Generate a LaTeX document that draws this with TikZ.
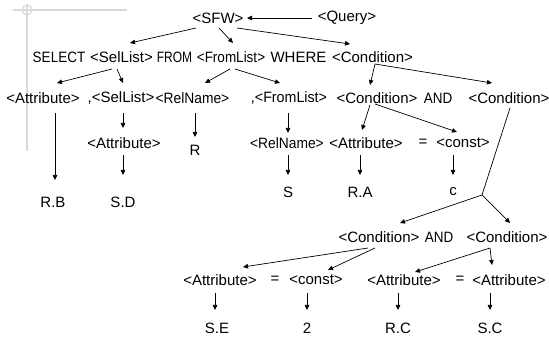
\documentclass[tikz,border=0pt]{standalone}
\usepackage{fontspec}
\setmainfont{Liberation Sans}
\usetikzlibrary{arrows.meta}
\tikzset{
  arr/.style={-{Triangle[length=5pt,width=4.5pt]}, line width=0.7pt},
  mark lines/.style={draw=black!15, line width=1.2pt}
}
\newcommand{\narrow}[2]{\scalebox{#1}[1]{#2}}
\begin{document}
\begin{tikzpicture}[x=1pt, y=-1pt, inner sep=0pt]
    \useasboundingbox (0,0) rectangle (549,347);
    \fontsize{15}{17}\selectfont
    % faint slide marks
    \draw [mark lines] (13,10) -- (127,10);
    \draw [mark lines] (27,4) -- (27,151);
    \draw [mark lines] (27,10) circle (5);

    \node (Q)   at (347,18) {<Query>};
    \node (SFW) at (218,18) {<SFW>};

    \node (SEL) at (59,57)    {\narrow{0.9}{SELECT}};
    \node (SL)  at (121.5,57) {<SelList>};
    \node (FR)  at (174.5,57) {\narrow{0.8}{FROM}};
    \node (FL)  at (231,57)   {\narrow{0.9}{<FromList>}};
    \node (WH)  at (298.5,57) {WHERE};
    \node (C)   at (372.5,57) {<Condition>};

    \node (A1)  at (43,98)  {<Attribute>};
    \node (SL2) at (121,98) {,<SelList>};
    \node (RN1) at (192.5,98) {\narrow{0.92}{<RelName>}};
    \node (FL2) at (289,98) {\narrow{0.95}{,<FromList>}};
    \node (C1)  at (377,98) {<Condition>};
    \node (AND1) at (438,98) {\narrow{0.9}{AND}};
    \node (C2)  at (509,98) {<Condition>};

    \node (A2)  at (124,143) {<Attribute>};
    \node (R)   at (195,150) {R};
    \node (RN2) at (287,143) {\narrow{0.92}{<RelName>}};
    \node (A3)  at (366,143) {<Attribute>};
    \node (EQ1) at (423,143) {=};
    \node (K1)  at (463,143) {<const>};

    \node (RB)  at (53,202)  {R.B};
    \node (SD)  at (123,202) {S.D};
    \node (S)   at (288,192) {S};
    \node (RA)  at (360,192) {R.A};
    \node (c)   at (453,192) {c};

    \node (C3)  at (379,237) {<Condition>};
    \node (AND2) at (439,237) {\narrow{0.9}{AND}};
    \node (C4)  at (507,237) {<Condition>};

    \node (A4)  at (220,280) {<Attribute>};
    \node (EQ2) at (275,280) {=};
    \node (K2)  at (316,280) {<const>};
    \node (A5)  at (404,280) {<Attribute>};
    \node (EQ3) at (460,280) {=};
    \node (A6)  at (509,280) {<Attribute>};

    \node (SE)  at (217,328) {S.E};
    \node (N2)  at (307,328) {2};
    \node (RC)  at (398,328) {R.C};
    \node (SC)  at (490,328) {S.C};

    \coordinate (split) at (482,195);

    \draw [arr] ([shift={(-35,0)}]Q.center) -- ([shift={(29,0)}]SFW.center);
    \draw [arr] ([shift={(-22,10)}]SFW.center) -- ([shift={(8.5,-14)}]SL.center);
    \draw [arr] ([shift={(1,10)}]SFW.center) -- ([shift={(2,-14)}]FL.center);
    \draw [arr] ([shift={(19,10)}]SFW.center) -- ([shift={(-22.5,-13)}]C.center);

    \draw [arr] ([shift={(-9.5,12)}]SL.center) -- ([shift={(14,-15)}]A1.center);
    \draw [arr] ([shift={(-4.5,12)}]SL.center) -- ([shift={(2,-15)}]SL2.center);
    \draw [arr] ([shift={(-1,12)}]FL.center) -- ([shift={(12.5,-15)}]RN1.center);
    \draw [arr] ([shift={(4,12)}]FL.center) -- ([shift={(-9,-15)}]FL2.center);
    \draw [arr] ([shift={(2.5,7)}]C.center) -- ([shift={(-7,-13)}]C1.center);
    \draw [arr] ([shift={(2.5,7)}]C.center) -- ([shift={(-17,-15)}]C2.center);

    \draw [arr] ([shift={(12,15)}]A1.center) -- ([shift={(2,-22)}]RB.center);
    \draw [arr] ([shift={(2,15)}]SL2.center) -- ([shift={(-1,-15)}]A2.center);
    \draw [arr] ([shift={(2.5,15)}]RN1.center) -- ([shift={(0,-13)}]R.center);
    \draw [arr] ([shift={(-1,15)}]FL2.center) -- ([shift={(1,-10)}]RN2.center);
    \draw [arr] ([shift={(-7,7)}]C1.center) -- ([shift={(-4,-13)}]A3.center);
    \draw [arr] ([shift={(-2,6)}]C1.center) -- ([shift={(-6,-11)}]K1.center);

    \draw [arr] ([shift={(-1,12)}]A2.center) -- ([shift={(0,-27)}]SD.center);
    \draw [arr] ([shift={(1,12)}]RN2.center) -- ([shift={(0,-17)}]S.center);
    \draw [arr] ([shift={(-6,12)}]A3.center) -- ([shift={(0,-17)}]RA.center);
    \draw [arr] ([shift={(-10,12)}]K1.center) -- ([shift={(0,-17)}]c.center);

    \draw [line width=0.7pt] ([shift={(1,10)}]C2.center) -- (split);
    \draw [arr] (split) -- ([shift={(21,-14)}]C3.center);
    \draw [arr] (split) -- ([shift={(3,-14)}]C4.center);

    \draw [arr] ([shift={(-11,11)}]C3.center) -- ([shift={(23,-13)}]A4.center);
    \draw [arr] ([shift={(-4,11)}]C3.center) -- ([shift={(12,-10)}]K2.center);
    \draw [arr] ([shift={(-17,11)}]C4.center) -- ([shift={(11,-8)}]A5.center);
    \draw [arr] ([shift={(-17,11)}]C4.center) -- ([shift={(-17,-15)}]A6.center);

    \draw [arr] ([shift={(-5,13)}]A4.center) -- ([shift={(-2,-18)}]SE.center);
    \draw [arr] ([shift={(-9,13)}]K2.center) -- ([shift={(0,-18)}]N2.center);
    \draw [arr] ([shift={(-6,13)}]A5.center) -- ([shift={(0,-18)}]RC.center);
    \draw [arr] ([shift={(-19,13)}]A6.center) -- ([shift={(0,-18)}]SC.center);
\end{tikzpicture}
\end{document}
